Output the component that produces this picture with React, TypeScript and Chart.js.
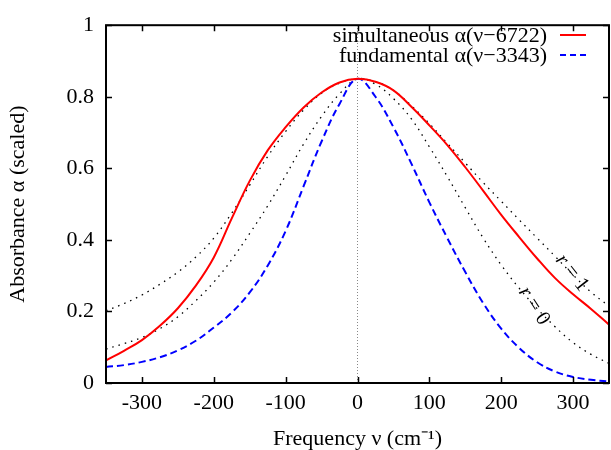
import React, { useEffect, useRef } from "react";
import { Chart, registerables } from "chart.js";

Chart.register(...registerables);

const FREQ = [-350, -325, -300, -275, -250, -225, -200, -175, -150, -125, -100, -75, -50, -25, 0, 25, 50, 75, 100, 125, 150, 175, 200, 225, 250, 275, 300, 325, 350];

const SIMULTANEOUS = [0.063, 0.09, 0.12, 0.16, 0.209, 0.272, 0.351, 0.46, 0.565, 0.65, 0.715, 0.77, 0.812, 0.84, 0.85, 0.842, 0.818, 0.772, 0.72, 0.665, 0.603, 0.537, 0.47, 0.408, 0.348, 0.293, 0.248, 0.207, 0.163];
const FUNDAMENTAL = [0.045, 0.05, 0.059, 0.072, 0.091, 0.118, 0.155, 0.197, 0.253, 0.328, 0.425, 0.55, 0.675, 0.78, 0.85, 0.8, 0.715, 0.613, 0.505, 0.405, 0.31, 0.223, 0.152, 0.098, 0.058, 0.032, 0.017, 0.009, 0.004];
const R1 = [0.202, 0.222, 0.246, 0.276, 0.31, 0.352, 0.405, 0.475, 0.553, 0.633, 0.703, 0.763, 0.81, 0.838, 0.85, 0.842, 0.818, 0.775, 0.725, 0.67, 0.615, 0.56, 0.508, 0.456, 0.405, 0.354, 0.302, 0.254, 0.215];
const R0 = [0.095, 0.11, 0.127, 0.152, 0.185, 0.23, 0.282, 0.345, 0.418, 0.495, 0.58, 0.668, 0.745, 0.808, 0.85, 0.835, 0.795, 0.738, 0.66, 0.577, 0.49, 0.405, 0.33, 0.265, 0.208, 0.157, 0.113, 0.08, 0.055];

const CENTER_X = [0, 0];
const CENTER_Y = [0, 1];

const X_TICKS = [-300, -200, -100, 0, 100, 200, 300];
const Y_TICKS = [0, 0.2, 0.4, 0.6, 0.8, 1];

const LEGEND_LABELS = ["simultaneous α(ν−6722)", "fundamental α(ν−3343)"];
const CURVE_LABELS = ["1", "0"];

const FONT_FAMILY = '"Liberation Serif", "Times New Roman", serif';

const pts = (xs: number[], ys: number[]) => xs.map((x, i) => ({ x, y: ys[i] }));

const decor = {
  id: "decor",
  afterDatasetsDraw(chart: any) {
    const { ctx, chartArea: a, scales } = chart;
    const sx = scales.x;
    const sy = scales.y;
    ctx.save();
    ctx.strokeStyle = "#000";
    ctx.lineWidth = 1.5;
    ctx.beginPath();
    for (const t of X_TICKS) {
      const px = Math.round(sx.getPixelForValue(t)) + 0.5;
      ctx.moveTo(px, a.bottom);
      ctx.lineTo(px, a.bottom - 6);
      ctx.moveTo(px, a.top);
      ctx.lineTo(px, a.top + 6);
    }
    for (const t of Y_TICKS) {
      const py = Math.round(sy.getPixelForValue(t)) + 0.5;
      ctx.moveTo(a.left, py);
      ctx.lineTo(a.left + 6, py);
      ctx.moveTo(a.right, py);
      ctx.lineTo(a.right - 6, py);
    }
    ctx.stroke();
    ctx.lineWidth = 2;
    ctx.strokeRect(a.left, a.top, a.right - a.left, a.bottom - a.top);

    // legend
    ctx.font = `22px ${FONT_FAMILY}`;
    ctx.fillStyle = "#000";
    ctx.textAlign = "right";
    ctx.textBaseline = "alphabetic";
    const legendStyles = [
      { color: "#ff0000", dash: [] as number[], width: 2 },
      { color: "#0000ff", dash: [6, 4], width: 2 },
    ];
    LEGEND_LABELS.forEach((label, i) => {
      const yText = 42 + i * 20;
      ctx.fillText(label, 547, yText);
      ctx.beginPath();
      ctx.setLineDash(legendStyles[i].dash);
      ctx.strokeStyle = legendStyles[i].color;
      ctx.lineWidth = legendStyles[i].width;
      ctx.moveTo(560, yText - 7);
      ctx.lineTo(586, yText - 7);
      ctx.stroke();
    });
    ctx.setLineDash([]);

    // curve labels r = 1, r = 0
    const labelPos = [
      { x: 572, y: 273, angle: 52 },
      { x: 534, y: 306, angle: 57 },
    ];
    CURVE_LABELS.forEach((val, i) => {
      const p = labelPos[i];
      ctx.save();
      ctx.translate(p.x, p.y);
      ctx.rotate((p.angle * Math.PI) / 180);
      ctx.textBaseline = "middle";
      ctx.textAlign = "left";
      ctx.font = `italic 21px ${FONT_FAMILY}`;
      const rW = ctx.measureText("r").width;
      ctx.font = `21px ${FONT_FAMILY}`;
      const restW = ctx.measureText(" = " + val).width;
      const start = -(rW + restW) / 2;
      ctx.fillStyle = "#000";
      ctx.font = `italic 21px ${FONT_FAMILY}`;
      ctx.fillText("r", start, 0);
      ctx.font = `21px ${FONT_FAMILY}`;
      ctx.fillText(" = " + val, start + rW, 0);
      ctx.restore();
    });
    ctx.restore();
  },
};

export default function App() {
  const ref = useRef<HTMLCanvasElement | null>(null);
  useEffect(() => {
    if (!ref.current) return;
    const font = { family: FONT_FAMILY, size: 22 };
    const dotted = {
      borderColor: "#000",
      borderWidth: 1.3,
      borderDash: [1.5, 5],
      pointRadius: 0,
      tension: 0.4,
    };
    const chart = new Chart(ref.current, {
      type: "line",
      data: {
        datasets: [
          {
            label: "simultaneous α(ν−6722)",
            data: pts(FREQ, SIMULTANEOUS),
            borderColor: "#ff0000",
            borderWidth: 2,
            pointRadius: 0,
            tension: 0.4,
          },
          {
            label: "fundamental α(ν−3343)",
            data: pts(FREQ, FUNDAMENTAL),
            borderColor: "#0000ff",
            borderWidth: 2,
            borderDash: [7, 4],
            pointRadius: 0,
            tension: 0.4,
          },
          { label: "r = 1", data: pts(FREQ, R1), ...dotted },
          { label: "r = 0", data: pts(FREQ, R0), ...dotted },
          {
            label: "center",
            data: pts(CENTER_X, CENTER_Y),
            borderColor: "#888",
            borderWidth: 1,
            borderDash: [1, 2],
            pointRadius: 0,
          },
        ],
      },
      options: {
        animation: false,
        responsive: false,
        layout: { padding: { top: 18, right: 2, left: 0, bottom: 0 } },
        plugins: { legend: { display: false }, tooltip: { enabled: false } },
        scales: {
          x: {
            type: "linear",
            min: -350,
            max: 350,
            afterBuildTicks: (s: any) => { s.ticks = X_TICKS.map((v) => ({ value: v })); },
            ticks: { font, color: "#000", padding: 7, maxRotation: 0, autoSkip: false },
            grid: { display: false, drawTicks: false },
            border: { display: false },
            title: { display: true, text: "Frequency ν (cm⁻¹)", font, color: "#000", padding: { top: 0, bottom: -2 } },
            afterFit: (s: any) => { s.height = 67; },
          },
          y: {
            type: "linear",
            min: 0,
            max: 1,
            afterBuildTicks: (s: any) => { s.ticks = Y_TICKS.map((v) => ({ value: v })); },
            ticks: { font, color: "#000", padding: 12, autoSkip: false, callback: (v: any) => String(+Number(v).toFixed(1)) },
            grid: { display: false, drawTicks: false },
            border: { display: false },
            title: { display: true, text: "Absorbance α (scaled)", font, color: "#000", padding: { top: 5, bottom: 0 } },
            afterFit: (s: any) => { s.width = 106; },
          },
        },
      },
      plugins: [decor],
    } as any);
    return () => chart.destroy();
  }, []);
  return (
    <div style={{ position: "absolute", left: 0, top: 0, width: 611, height: 450, background: "#fff" }}>
      <canvas ref={ref} width={611} height={450} />
    </div>
  );
}
